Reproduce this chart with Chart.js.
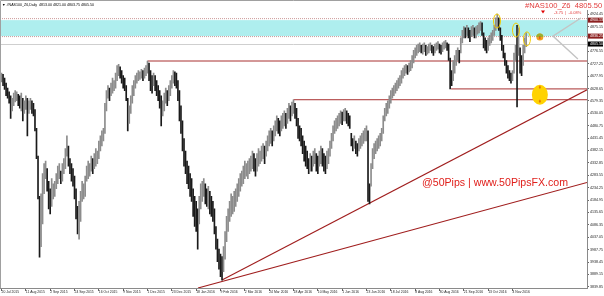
<!DOCTYPE html>
<html>
<head>
<meta charset="utf-8">
<script src="https://cdn.jsdelivr.net/npm/chart.js@4.4.0/dist/chart.umd.min.js"></script>
<style>
  html, body { margin: 0; padding: 0; background: #fff; }
  canvas { display: block; }
</style>
</head>
<body>
<canvas id="chart" width="604" height="296"></canvas>
<script>
// #NAS100_Z6 daily bars, 20 Jul 2015 .. 17 Nov 2016
const highs = [
  4690,4685,4670,4650,4630,4615,4600,4590,4610,4620,
  4615,4605,4600,4610,4590,4580,4600,4590,4580,4590,
  4580,4570,4545,4470,4360,4200,4210,4290,4330,4340,
  4310,4260,4230,4270,4250,4260,4290,4320,4330,4300,
  4330,4350,4390,4440,4400,4350,4330,4310,4280,4230,
  4160,4180,4220,4260,4250,4280,4320,4340,4330,4360,
  4350,4370,4390,4380,4420,4440,4460,4470,4570,4620,
  4640,4630,4650,4670,4660,4690,4720,4725,4715,4700,
  4680,4670,4640,4590,4560,4600,4640,4660,4680,4690,
  4700,4695,4705,4700,4710,4720,4738,4730,4700,4680,
  4690,4680,4660,4640,4620,4600,4580,4610,4630,4620,
  4640,4660,4680,4700,4695,4690,4660,4620,4560,4500,
  4430,4380,4340,4320,4290,4270,4230,4200,4180,4150,
  4200,4250,4260,4270,4250,4230,4240,4220,4200,4180,
  4150,4080,4030,3990,3970,3960,4000,4060,4120,4150,
  4180,4210,4200,4220,4230,4250,4270,4290,4300,4320,
  4340,4330,4340,4350,4360,4380,4370,4350,4370,4390,
  4380,4400,4410,4400,4420,4440,4460,4470,4460,4480,
  4500,4520,4510,4500,4520,4530,4540,4530,4550,4570,
  4560,4575,4584,4570,4550,4510,4480,4470,4440,4420,
  4400,4380,4350,4370,4360,4380,4390,4370,4360,4380,
  4400,4390,4370,4360,4380,4390,4420,4450,4480,4500,
  4510,4520,4530,4540,4535,4545,4550,4540,4530,4520,
  4450,4430,4440,4420,4410,4430,4440,4450,4460,4470,
  4480,4460,4250,4330,4390,4410,4420,4430,4440,4450,
  4470,4520,4550,4570,4580,4600,4620,4630,4640,4650,
  4660,4670,4680,4700,4710,4720,4725,4720,4730,4740,
  4760,4780,4790,4800,4805,4810,4800,4805,4810,4800,
  4795,4805,4810,4800,4795,4805,4810,4815,4805,4800,
  4810,4815,4820,4810,4805,4750,4700,4740,4760,4780,
  4790,4780,4830,4860,4875,4870,4880,4870,4860,4875,
  4880,4870,4875,4880,4890,4895,4890,4850,4830,4820,
  4830,4840,4850,4860,4880,4910,4925,4910,4870,4840,
  4800,4770,4740,4720,4700,4690,4700,4770,4800,4880,
  4870,4790,4760,4800,4830,4850
];
const lows = [
  4655,4640,4625,4600,4590,4570,4510,4540,4560,4575,
  4580,4560,4550,4540,4500,4530,4545,4440,4530,4545,
  4530,4520,4460,4350,4190,3958,4000,4090,4210,4270,
  4220,4150,4130,4160,4190,4200,4230,4250,4270,4250,
  4260,4290,4310,4360,4320,4290,4260,4240,4190,4110,
  4050,4030,4100,4180,4190,4200,4260,4270,4280,4300,
  4290,4310,4320,4330,4350,4380,4400,4420,4450,4540,
  4590,4580,4600,4610,4620,4630,4660,4680,4670,4650,
  4630,4620,4580,4460,4490,4530,4570,4600,4630,4650,
  4660,4665,4670,4660,4670,4680,4690,4660,4620,4610,
  4640,4620,4600,4580,4550,4480,4520,4540,4570,4560,
  4580,4600,4630,4650,4640,4630,4580,4500,4450,4380,
  4320,4290,4250,4230,4200,4180,4120,4080,4060,3990,
  4090,4150,4180,4200,4170,4160,4150,4130,4120,4100,
  4050,3990,3940,3910,3880,3867,3900,3950,4020,4060,
  4100,4120,4130,4140,4160,4180,4200,4220,4240,4250,
  4270,4280,4270,4290,4300,4310,4300,4280,4300,4320,
  4330,4340,4350,4330,4360,4380,4400,4410,4400,4420,
  4440,4460,4450,4440,4460,4470,4480,4470,4490,4510,
  4500,4520,4530,4510,4480,4430,4420,4400,4370,4340,
  4320,4310,4290,4300,4300,4320,4330,4300,4290,4320,
  4330,4320,4300,4290,4310,4330,4360,4390,4420,4450,
  4460,4470,4480,4490,4485,4500,4500,4490,4480,4470,
  4400,4380,4390,4370,4360,4380,4390,4400,4410,4420,
  4420,4180,4170,4240,4310,4350,4370,4380,4390,4400,
  4420,4450,4500,4520,4530,4550,4570,4590,4600,4610,
  4620,4630,4640,4650,4670,4680,4690,4685,4695,4700,
  4710,4730,4750,4760,4770,4775,4770,4765,4775,4760,
  4765,4770,4780,4770,4760,4770,4780,4785,4770,4765,
  4775,4785,4790,4780,4740,4627,4640,4660,4690,4720,
  4740,4730,4770,4810,4830,4830,4840,4830,4815,4835,
  4840,4830,4830,4845,4850,4860,4840,4790,4780,4770,
  4780,4800,4810,4820,4840,4860,4870,4860,4820,4780,
  4750,4720,4690,4670,4660,4650,4660,4690,4740,4555,
  4760,4690,4680,4720,4770,4795
];

const xTickIdx = [0,16,32,48,64,80,96,112,128,144,160,176,192,208,224,240,256,272,288,304,320,336];
const xTickLabels = ['20 Jul 2015','11 Aug 2015','2 Sep 2015','24 Sep 2015','16 Oct 2015','9 Nov 2015',
  '1 Dec 2015','23 Dec 2015','18 Jan 2016','9 Feb 2016','2 Mar 2016','24 Mar 2016','18 Apr 2016',
  '10 May 2016','1 Jun 2016','23 Jun 2016','18 Jul 2016','8 Aug 2016','30 Aug 2016','21 Sep 2016',
  '13 Oct 2016','4 Nov 2016'];
const yTickValues = [3839.85,3889.15,3938.45,3987.75,4037.05,4086.35,4135.65,4184.95,4234.25,4283.55,
  4332.85,4382.15,4431.45,4480.75,4530.05,4579.35,4628.65,4677.95,4727.25,4776.55,4875.15,4924.45];

// drawn objects (bar index / price)
const hLevels = [[96, 4738], [192, 4584], [295.6, 4627]];
const trendA = [[145, 3867], [385, 4623.5]];
const trendB = [[129.2, 3835.4], [385, 4255]];
const chevron = [[379, 4746], [362.6, 4837], [381, 4909]];
const zoneTop = 4900.5, zoneBottom = 4837;
const lastPrice = 4805.50;
const marks = [[325.8, 4897], [338.3, 4861], [345.5, 4826]];
const smallDot = [354, 4833];
const bigDot = [354, 4604];

const FONT = 'Liberation Sans, Arial, sans-serif';

const barData = highs.map((h, i) => ({ x: i, y: [lows[i], h] }));
const barColors = highs.map((h, i) => {
  if (i === 0) return '#8c8c8c';
  return (h + lows[i]) < (highs[i - 1] + lows[i - 1]) ? '#1a1a1a' : '#8c8c8c';
});

const lineSet = (pts, color, width) => ({
  type: 'line',
  data: pts.map(p => ({ x: p[0], y: p[1] })),
  borderColor: color,
  borderWidth: width,
  pointRadius: 0,
  fill: false,
  tension: 0
});

const datasets = [
  {
    type: 'bar',
    data: barData,
    backgroundColor: barColors,
    borderWidth: 0,
    barThickness: 1,
    grouped: false
  },
  ...hLevels.map(h => lineSet([[h[0], h[1]], [385, h[1]]], '#a83030', 1)),
  lineSet(trendA, '#a01e1e', 1.1),
  lineSet(trendB, '#a01e1e', 1.1),
  lineSet(chevron, '#c4c4c4', 1.4)
];

const overlay = {
  id: 'overlay',
  beforeDatasetsDraw(chart) {
    const { ctx, chartArea: a, scales: { y } } = chart;
    const t = y.getPixelForValue(zoneTop), b = y.getPixelForValue(zoneBottom);
    ctx.save();
    ctx.fillStyle = '#aeeeee';
    ctx.fillRect(a.left, t, a.right - a.left, b - t);
    // dotted edges
    ctx.strokeStyle = '#cc9999';
    ctx.lineWidth = 1;
    ctx.setLineDash([1, 1]);
    ctx.beginPath();
    ctx.moveTo(a.left, t - 1.5); ctx.lineTo(a.right, t - 1.5);
    ctx.moveTo(a.left, b + 0.5); ctx.lineTo(a.right, b + 0.5);
    ctx.stroke();
    ctx.setLineDash([]);
    // bid line
    const p = Math.round(y.getPixelForValue(lastPrice)) + 0.5;
    ctx.strokeStyle = '#cfcfcf';
    ctx.beginPath();
    ctx.moveTo(a.left, p); ctx.lineTo(a.right, p);
    ctx.stroke();
    ctx.restore();
  },
  afterDraw(chart) {
    const { ctx, chartArea: a, scales: { x, y } } = chart;
    ctx.save();
    // window border
    ctx.strokeStyle = '#a0a0a0';
    ctx.lineWidth = 1;
    ctx.beginPath();
    ctx.moveTo(0.5, a.bottom); ctx.lineTo(0.5, 0.5); ctx.lineTo(a.right, 0.5);
    ctx.stroke();

    // yellow ellipses
    ctx.strokeStyle = '#f2cc00';
    ctx.lineWidth = 1;
    marks.forEach(m => {
      ctx.beginPath();
      ctx.ellipse(x.getPixelForValue(m[0]), y.getPixelForValue(m[1]), 3.5, 7, 0, 0, Math.PI * 2);
      ctx.stroke();
    });

    // small dot
    let cx = x.getPixelForValue(smallDot[0]), cy = y.getPixelForValue(smallDot[1]);
    ctx.fillStyle = '#f0a020';
    ctx.beginPath(); ctx.arc(cx, cy, 3.5, 0, Math.PI * 2); ctx.fill();
    ctx.fillStyle = '#9ab030';
    ctx.beginPath(); ctx.arc(cx, cy, 3.5, Math.PI, Math.PI * 2); ctx.fill();
    ctx.fillStyle = '#e04010';
    ctx.fillRect(cx - 0.5, cy - 1, 1, 3);

    // big dot
    cx = x.getPixelForValue(bigDot[0]); cy = y.getPixelForValue(bigDot[1]);
    ctx.fillStyle = '#ffd200';
    ctx.beginPath(); ctx.ellipse(cx, cy, 8, 10, 0, 0, Math.PI * 2); ctx.fill();
    ctx.fillStyle = '#e07000';
    ctx.fillRect(cx - 1, cy - 8, 2, 1);
    ctx.fillRect(cx - 0.5, cy - 9, 1, 3);
    ctx.fillRect(cx - 1, cy + 6, 2, 1);
    ctx.fillRect(cx - 0.5, cy + 5, 1, 3);

    // title
    ctx.fillStyle = '#000';
    ctx.textBaseline = 'middle';
    ctx.textAlign = 'left';
    ctx.font = '3.6px ' + FONT;
    ctx.fillText('\u25BC #NAS100_Z6,Daily  4813.00 4821.00 4803.75 4805.50', 2, 4.5);

    // symbol / price top right, on a white patch over the axis line
    ctx.font = '7.6px ' + FONT;
    const head = '#NAS100_Z6  4805.50';
    const hw = ctx.measureText(head).width;
    ctx.fillStyle = '#fff';
    ctx.fillRect(524, 1, hw + 2, 9);
    ctx.fillStyle = '#e23c3c';
    ctx.fillText(head, 525, 5.5);
    ctx.font = '4px ' + FONT;
    ctx.fillText('-3.75  |  -0.08%', 554, 12.5);
    ctx.fillStyle = '#e00000';
    ctx.beginPath();
    ctx.moveTo(541, 10.5); ctx.lineTo(545, 10.5); ctx.lineTo(543, 13.5);
    ctx.closePath(); ctx.fill();

    // watermark
    ctx.fillStyle = '#e0201c';
    ctx.font = '10.6px ' + FONT;
    ctx.fillText('@50Pips | www.50PipsFX.com', 422, 183);

    // price tags on the axis
    const tags = [[zoneTop, '4900.13', '#8b1e1e'], [zoneBottom, '4836.25', '#8b1e1e'], [lastPrice, '4805.50', '#000']];
    ctx.font = '3.6px ' + FONT;
    tags.forEach(tg => {
      const py = y.getPixelForValue(tg[0]);
      ctx.fillStyle = tg[2];
      ctx.fillRect(a.right + 1, py - 2.5, 15, 5);
      ctx.fillStyle = '#fff';
      ctx.fillText(tg[1], a.right + 3, py + 0.2);
    });
    ctx.restore();
  }
};

new Chart(document.getElementById('chart'), {
  data: { datasets },
  options: {
    responsive: false,
    animation: false,
    layout: { padding: { top: 2, left: 0, right: 0, bottom: 0 } },
    plugins: { legend: { display: false }, tooltip: { enabled: false } },
    scales: {
      x: {
        type: 'linear',
        min: -1,
        max: 385,
        offset: false,
        afterFit(s) { s.height = 8; },
        afterBuildTicks(s) { s.ticks = xTickIdx.map(v => ({ value: v })); },
        ticks: {
          autoSkip: false,
          maxRotation: 0,
          align: 'start',
          padding: -1,
          color: '#222',
          font: { size: 3.4, family: FONT },
          callback: (v, i) => xTickLabels[i]
        },
        grid: { drawOnChartArea: false, tickLength: 3, color: '#666', offset: false },
        border: { color: '#8a8a8a' }
      },
      y: {
        position: 'right',
        min: 3835.4,
        max: 4968,
        afterFit(s) { s.width = 17; },
        afterBuildTicks(s) { s.ticks = yTickValues.map(v => ({ value: v })); },
        ticks: {
          autoSkip: false,
          padding: 1,
          color: '#222',
          font: { size: 3.6, family: FONT },
          callback: v => v.toFixed(2)
        },
        grid: { drawOnChartArea: false, tickLength: 2, color: '#666' },
        border: { color: '#8a8a8a' }
      }
    }
  },
  plugins: [overlay]
});
</script>
</body>
</html>
